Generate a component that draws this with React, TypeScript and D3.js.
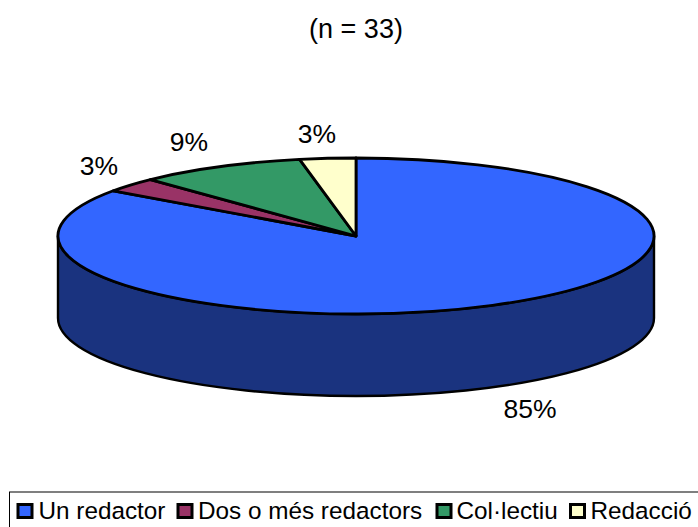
import React from "react";
import * as d3 from "d3";

const categories = ["Un redactor", "Dos o més redactors", "Col·lectiu", "Redacció"];
const counts = [28, 1, 3, 1];
const percentLabels = ["85%", "3%", "9%", "3%"];
const topColors = ["#3366FF", "#993366", "#339966", "#FFFFCC"];
const sideColor = "#1A337F";
const title = "(n = 33)";
const labelPos: [number, number][] = [[530, 418], [99, 175], [189, 151], [317, 143]];
const legendX = [18, 178, 437, 570.5];
const legendTextX = [38.5, 198, 456.5, 590.5];

const cx = 356, cy = 236, rx = 298, ry = 78, depth = 82;
const font = "'Liberation Sans', Arial, sans-serif";

export default function App() {
  const arcs = d3.pie<number>().sort(null)(counts);
  const xOf = d3.scaleLinear().domain([-1, 1]).range([cx - rx, cx + rx]);
  const yOf = d3.scaleLinear().domain([-1, 1]).range([cy - ry, cy + ry]);
  const pt = (a: number): [number, number] => [xOf(Math.sin(a)), yOf(-Math.cos(a))];
  const slice = (s: number, e: number) => {
    const [x0, y0] = pt(s), [x1, y1] = pt(e);
    return `M${cx},${cy}L${x0},${y0}A${rx},${ry} 0 ${e - s > Math.PI ? 1 : 0} 1 ${x1},${y1}Z`;
  };
  const side = `M${cx - rx},${cy}A${rx},${ry} 0 0 0 ${cx + rx},${cy}L${cx + rx},${cy + depth}A${rx},${ry} 0 0 1 ${cx - rx},${cy + depth}Z`;
  return (
    <svg width={698} height={527} style={{ position: "absolute", left: 0, top: 0, background: "#fff" }} fontFamily={font}>
      <text x={356} y={38} fontSize={27} textAnchor="middle" fill="#000">{title}</text>
      <path d={side} fill={sideColor} stroke="#000" strokeWidth={2.4} />
      {arcs.map((a, i) => (
        <path key={i} d={slice(a.startAngle, a.endAngle)} fill={topColors[i]} stroke="#000" strokeWidth={2.8} strokeLinejoin="round" />
      ))}
      {percentLabels.map((t, i) => (
        <text key={i} x={labelPos[i][0]} y={labelPos[i][1]} fontSize={26.5} textAnchor="middle" fill="#000">{t}</text>
      ))}
      <rect x={9.5} y={492} width={700} height={40} fill="#fff" stroke="#000" strokeWidth={1} />
      {categories.map((c, i) => (
        <g key={c}>
          <rect x={legendX[i]} y={504.5} width={14} height={13} fill={topColors[i]} stroke="#000" strokeWidth={3} />
          <text x={legendTextX[i]} y={519} fontSize={24.3} fill="#000">{c}</text>
        </g>
      ))}
    </svg>
  );
}
